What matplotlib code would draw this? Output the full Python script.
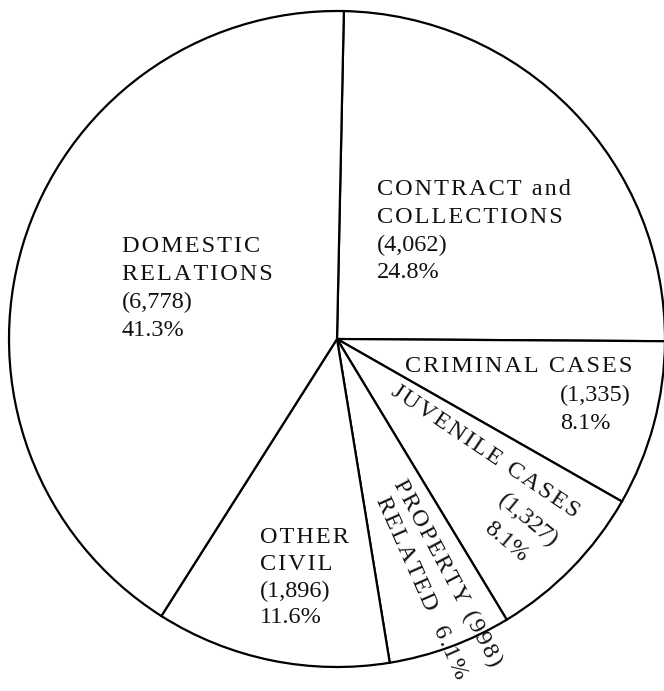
import matplotlib
matplotlib.use("Agg")
import matplotlib.pyplot as plt

# Caseload by category
categories = ["CONTRACT and COLLECTIONS", "CRIMINAL CASES", "JUVENILE CASES",
              "PROPERTY RELATED", "OTHER CIVIL", "DOMESTIC RELATIONS"]
counts = [4062, 1335, 1327, 998, 1896, 6778]
percents = ["24.8%", "8.1%", "8.1%", "6.1%", "11.6%", "41.3%"]
count_labels = ["(4,062)", "(1,335)", "(1,327)", "(998)", "(1,896)", "(6,778)"]

W, H = 664, 691
FONT = ["Liberation Serif", "DejaVu Serif"]
FS = 17.5
INK = "#111111"


def spaced(s):
    """Open up letter spacing the way the caption type is set."""
    return "\u200a".join(s)


def Y(y):
    # pixel rows measured from the top
    return H - y


fig = plt.figure(figsize=(W / 100, H / 100), dpi=100)
ax = fig.add_axes([0, 0, 1, 1])

ax.pie(counts, startangle=88.8, counterclock=False,
       center=(337, Y(339)), radius=328,
       colors=["white"] * len(counts),
       wedgeprops=dict(edgecolor="black", linewidth=1.6))

ax.set_xlim(0, W)
ax.set_ylim(0, H)
ax.set_aspect("auto")
ax.axis("off")


def line(x, y, s, ha="left", va="baseline", rot=0, track=True):
    ax.text(x, Y(y), spaced(s) if track else s, ha=ha, va=va, rotation=rot,
            rotation_mode="anchor", fontsize=FS, family=FONT, color=INK)


# Domestic relations
line(122, 252, "DOMESTIC")
line(122, 280, "RELATIONS")
line(122, 308, count_labels[5], track=False)
line(122, 336, percents[5], track=False)

# Contract and collections
line(377, 195, "CONTRACT and")
line(377, 223, "COLLECTIONS")
line(377, 251, count_labels[0], track=False)
line(377, 278, percents[0], track=False)

# Criminal cases
line(405, 372, "CRIMINAL CASES")
line(560, 401, count_labels[1], track=False)
line(560, 429, percents[1], track=False)

# Juvenile cases (set along the wedge)
line(485, 452, "JUVENILE CASES", ha="center", va="center", rot=-34)
line(528, 521, count_labels[2], ha="center", va="center", rot=-40, track=False)
line(506, 542, percents[2], ha="center", va="center", rot=-40, track=False)

# Property related (set along the wedge)
line(398, 481, "PROPERTY " + count_labels[3], va="center", rot=-62)
line(381, 498, "RELATED  " + percents[3], va="center", rot=-66)

# Other civil
line(260, 543, "OTHER")
line(260, 570, "CIVIL")
line(260, 597, count_labels[4], track=False)
line(260, 623, percents[4], track=False)

fig.savefig("out.png", dpi=100)
